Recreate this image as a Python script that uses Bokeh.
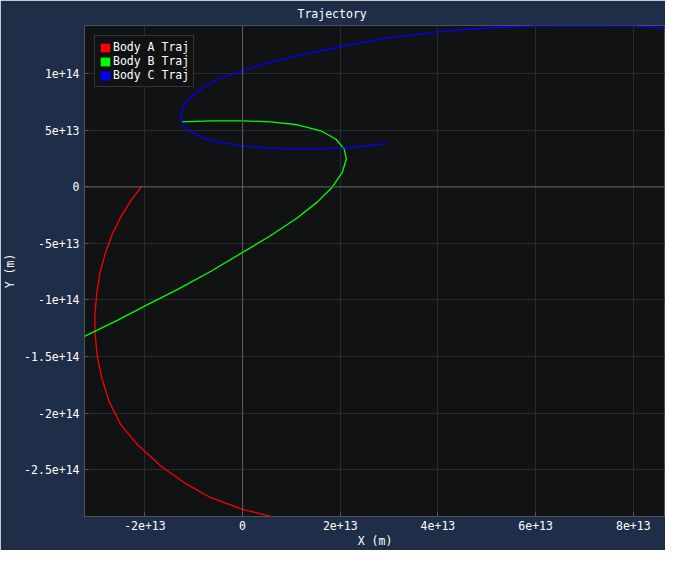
from bokeh.plotting import figure
from bokeh.models import Range1d, FixedTicker, CustomJSTickFormatter, Span, Legend, LegendItem
from bokeh.embed import file_html
from bokeh.resources import INLINE

# ---- data (metres) ----
a_x = [-2.06e13, -2.28e13, -2.49e13, -2.66e13, -2.81e13, -2.92e13, -2.985e13, -3.026e13,
       -3.02e13, -2.98e13, -2.88e13, -2.73e13, -2.49e13, -2.15e13, -1.67e13, -1.19e13,
       -0.65e13, 0.0, 0.58e13]
a_y = [0.09e13, -1.17e13, -2.63e13, -4.09e13, -5.85e13, -7.60e13, -9.36e13, -11.40e13,
       -12.87e13, -14.91e13, -16.96e13, -19.01e13, -21.05e13, -22.81e13, -24.71e13, -26.17e13,
       -27.49e13, -28.51e13, -29.15e13]

b_x = [-3.237e13, -2.555e13, -1.976e13, -1.329e13, -0.647e13, 0.0, 0.579e13, 1.124e13,
       1.533e13, 1.840e13, 2.044e13, 2.126e13, 2.078e13, 1.908e13, 1.601e13, 1.124e13,
       0.579e13, 0.0, -0.647e13, -1.247e13]
b_y = [-13.22e13, -11.78e13, -10.47e13, -9.06e13, -7.46e13, -5.79e13, -4.30e13, -2.72e13,
       -1.32e13, 0.0, 1.32e13, 2.49e13, 3.36e13, 4.24e13, 4.97e13, 5.50e13,
       5.76e13, 5.85e13, 5.85e13, 5.76e13]

c_x = [2.951e13, 2.487e13, 2.078e13, 1.533e13, 0.988e13, 0.443e13, 0.0, -0.443e13, -0.852e13,
       -1.124e13, -1.247e13, -1.274e13, -1.206e13, -1.056e13, -0.818e13, -0.477e13, 0.0,
       0.579e13, 1.261e13, 2.010e13, 2.795e13, 4.02e13, 4.98e13, 6.00e13, 6.89e13, 7.98e13,
       8.66e13]
c_y = [3.86e13, 3.60e13, 3.45e13, 3.36e13, 3.36e13, 3.45e13, 3.63e13, 3.92e13, 4.39e13,
       5.03e13, 5.70e13, 6.37e13, 7.16e13, 7.95e13, 8.77e13, 9.56e13, 10.29e13,
       11.05e13, 11.75e13, 12.40e13, 13.07e13, 13.74e13, 14.06e13, 14.24e13, 14.28e13, 14.24e13,
       14.04e13]

series_names = ["Body A Traj", "Body B Traj", "Body C Traj"]
series_colors = ["#ff0000", "#00ff00", "#0000ff"]

x_ticks = [-2e13, 0, 2e13, 4e13, 6e13, 8e13]
x_tick_labels = ["-2e+13", "0", "2e+13", "4e+13", "6e+13", "8e+13"]
y_ticks = [-2.5e14, -2e14, -1.5e14, -1e14, -5e13, 0, 5e13, 1e14]
y_tick_labels = ["-2.5e+14", "-2e+14", "-1.5e+14", "-1e+14", "-5e+13", "0", "5e+13", "1e+14"]

FONT = "DejaVu Sans Mono"
FS = "11.5px"
BG = "#1e2e48"
PLOT_BG = "#111214"

all_x = a_x + b_x + c_x
all_y = a_y + b_y + c_y

p = figure(frame_width=581, height=550, output_backend="svg", toolbar_location=None,
           x_range=Range1d(min(all_x), max(all_x)), y_range=Range1d(min(all_y), max(all_y)),
           title="Trajectory", x_axis_label="X (m)", y_axis_label="Y (m)")
p.border_fill_color = BG
p.background_fill_color = PLOT_BG
p.outline_line_color = "#505057"
p.min_border_left = 77
p.min_border_right = 0
p.min_border_top = 17
p.min_border_bottom = 30

p.title.text_font = FONT
p.title.text_font_size = FS
p.title.text_color = "#ffffff"
p.title.text_font_style = "normal"
p.title.text_line_height = 1.0
p.title.align = "left"
p.title.offset = 213
p.title.standoff = 9

def fmt(tvals, tlabels):
    return CustomJSTickFormatter(args=dict(tvals=tvals, tlabels=tlabels), code="""
        for (let i = 0; i < tvals.length; i++) {
            const t = tvals[i];
            if (Math.abs(t - tick) <= 1e-6 * Math.max(1, Math.abs(t))) return tlabels[i];
        }
        return '';
    """)

p.xaxis.ticker = FixedTicker(ticks=x_ticks, minor_ticks=[])
p.yaxis.ticker = FixedTicker(ticks=y_ticks, minor_ticks=[])
p.xaxis.formatter = fmt(x_ticks, x_tick_labels)
p.yaxis.formatter = fmt(y_ticks, y_tick_labels)
p.xgrid.ticker = FixedTicker(ticks=x_ticks)
p.ygrid.ticker = FixedTicker(ticks=y_ticks)

for ax in (p.xaxis, p.yaxis):
    ax.axis_line_color = None
    ax.major_tick_line_color = "#5a5a5a"
    ax.major_tick_in = 4
    ax.major_tick_out = 0
    ax.minor_tick_line_color = None
    ax.major_label_text_font = FONT
    ax.major_label_text_font_size = FS
    ax.major_label_text_color = "#ffffff"
    ax.major_label_text_line_height = 1.0
    ax.axis_label_text_font = FONT
    ax.axis_label_text_font_size = FS
    ax.axis_label_text_color = "#ffffff"
    ax.axis_label_text_font_style = "normal"
    ax.axis_label_text_line_height = 1.0
p.yaxis.major_label_standoff = 5
p.yaxis.axis_label_standoff = 4
p.xaxis.major_label_standoff = 4
p.xaxis.axis_label_standoff = 1

p.grid.grid_line_color = "#2a2a2e"
p.grid.grid_line_width = 1

p.add_layout(Span(location=0, dimension="height", line_color="#5e5e62", line_width=1))
p.add_layout(Span(location=0, dimension="width", line_color="#5e5e62", line_width=1))

items = []
for (xs, ys), name, col in zip([(a_x, a_y), (b_x, b_y), (c_x, c_y)], series_names, series_colors):
    p.line(xs, ys, line_color=col, line_width=1.3)
    # zero-size swatch renderer used only for the square legend marker
    sq = p.quad(left=xs[:1], right=xs[:1], top=ys[:1], bottom=ys[:1],
                fill_color=col, line_color=None)
    items.append(LegendItem(label=name, renderers=[sq]))

legend = Legend(items=items, location="top_left")
legend.margin = 10
legend.padding = 4
legend.spacing = 0
legend.glyph_width = 12
legend.glyph_height = 11
legend.label_height = 13
legend.label_standoff = 2
legend.label_text_font = FONT
legend.label_text_font_size = FS
legend.label_text_color = "#ffffff"
legend.label_text_baseline = "middle"
legend.background_fill_color = PLOT_BG
legend.background_fill_alpha = 1.0
legend.border_line_color = "#55555a"
legend.border_line_width = 1
p.add_layout(legend, "center")

open("out.html", "w").write(file_html(p, INLINE))
